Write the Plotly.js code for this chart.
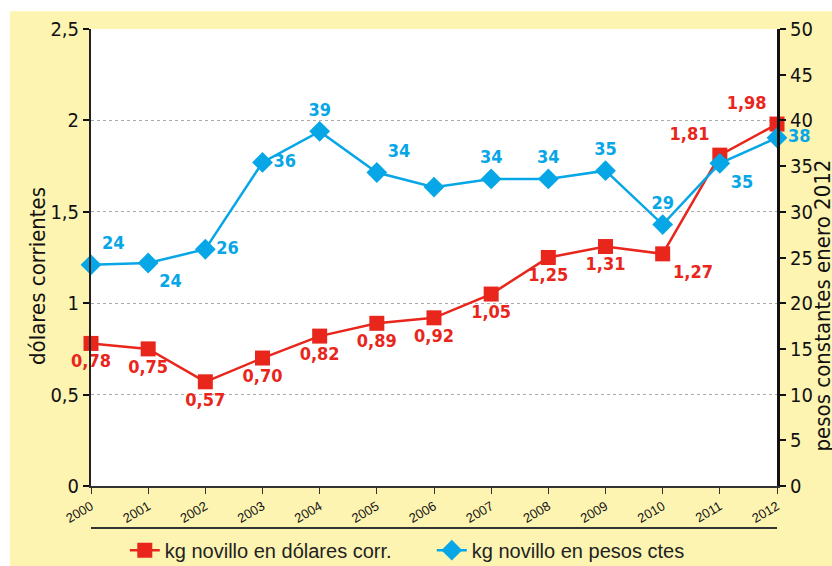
<!DOCTYPE html>
<html>
<head>
<meta charset="utf-8">
<script src="https://cdn.plot.ly/plotly-3.0.1.min.js"></script>
<style>
  html, body { margin: 0; padding: 0; background: #fff; }
  #chart { width: 832px; height: 566px; }
</style>
</head>
<body>
<div id="chart"></div>
<script>
// years on the x axis
var years = ["2000", "2001", "2002", "2003", "2004", "2005", "2006",
             "2007", "2008", "2009", "2010", "2011", "2012"];

// price per kg of steer, current dollars (left axis)
var dolares = [0.78, 0.75, 0.57, 0.70, 0.82, 0.89, 0.92, 1.05, 1.25, 1.31, 1.27, 1.81, 1.98];
var dolaresLabels = ["0,78", "0,75", "0,57", "0,70", "0,82", "0,89", "0,92",
                     "1,05", "1,25", "1,31", "1,27", "1,81", "1,98"];

// price per kg of steer, constant pesos Jan 2012 (right axis)
var pesos = [24.2, 24.4, 25.9, 35.4, 38.8, 34.3, 32.7, 33.6, 33.6, 34.5, 28.6, 35.3, 38.1];
var pesosLabels = ["24", "24", "26", "36", "39", "34", "", "34", "34", "35", "29", "35", "38"];

var rojo = "#e8261c";
var azul = "#07a6e6";
var narrow = "DejaVu Sans Condensed, Liberation Sans Narrow, sans-serif";

var traceDol = {
  x: years,
  y: dolares,
  name: "kg novillo en dólares corr.",
  type: "scatter",
  mode: "lines+markers+text",
  line: { color: rojo, width: 2.5 },
  marker: { symbol: "square", size: 15, color: rojo },
  text: dolaresLabels,
  textposition: ["bottom center", "bottom center", "bottom center", "bottom center",
                 "bottom center", "bottom center", "bottom center", "bottom center",
                 "bottom center", "bottom center", "bottom right", "top left", "top left"],
  textfont: { family: narrow, size: 18, color: rojo, weight: "bold" },
  cliponaxis: false
};

var tracePes = {
  x: years,
  y: pesos,
  yaxis: "y2",
  name: "kg novillo en pesos ctes",
  type: "scatter",
  mode: "lines+markers+text",
  line: { color: azul, width: 2.5 },
  marker: { symbol: "diamond", size: 16, color: azul },
  text: pesosLabels,
  textposition: ["top right", "bottom right", "middle right", "middle right",
                 "top center", "top right", "top center", "top center",
                 "top center", "top center", "top center", "bottom right", "middle right"],
  textfont: { family: narrow, size: 18, color: azul, weight: "bold" },
  cliponaxis: false
};

var layout = {
  width: 832,
  height: 566,
  margin: { l: 91, r: 55, t: 29, b: 80 },
  paper_bgcolor: "#fdf4b2",
  plot_bgcolor: "#ffffff",
  separators: ",.",
  showlegend: true,
  legend: {
    orientation: "h",
    xref: "container", yref: "container",
    x: 0.15, y: 0.028,
    xanchor: "left", yanchor: "middle",
    bgcolor: "rgba(0,0,0,0)",
    font: { family: "Liberation Sans, Arial, sans-serif", size: 20, color: "#222" },
    entrywidth: 262,
    entrywidthmode: "pixels",
    traceorder: "normal"
  },
  xaxis: {
    type: "category",
    range: [0, 12],
    automargin: false,
    showgrid: false,
    showline: true,
    linecolor: "#333",
    linewidth: 2,
    ticks: "outside",
    ticklen: 6,
    tickcolor: "#333",
    tickangle: -30,
    tickfont: { family: "Liberation Sans, Arial, sans-serif", size: 13, color: "#111" },
    zeroline: false
  },
  yaxis: {
    range: [0, 2.5],
    dtick: 0.5,
    automargin: false,
    showgrid: true,
    gridcolor: "#aaaaaa",
    griddash: "dot",
    gridwidth: 1,
    showline: true,
    linecolor: "#222",
    linewidth: 2,
    ticks: "outside",
    ticklen: 6,
    tickwidth: 2,
    tickcolor: "#111",
    tickfont: { family: narrow, size: 20, color: "#111" },
    zeroline: false
  },
  yaxis2: {
    overlaying: "y",
    side: "right",
    range: [0, 50],
    dtick: 5,
    automargin: false,
    showgrid: false,
    showline: true,
    linecolor: "#111",
    linewidth: 3,
    ticks: "outside",
    ticklen: 6,
    tickwidth: 2,
    tickcolor: "#111",
    tickfont: { family: narrow, size: 20, color: "#111" },
    zeroline: false
  },
  shapes: [
    // white strips outside the yellow panel
    { type: "rect", xref: "paper", yref: "paper", x0: -0.2, x1: -0.118, y0: -0.3, y1: 1.2,
      fillcolor: "#ffffff", line: { width: 0 }, layer: "above" },
    { type: "rect", xref: "paper", yref: "paper", x0: -0.2, x1: 1.2, y0: 1.039, y1: 1.2,
      fillcolor: "#ffffff", line: { width: 0 }, layer: "above" },
    // rule between the years and the legend
    { type: "line", xref: "paper", yref: "paper", x0: 0, x1: 1, y0: -0.092, y1: -0.092,
      line: { color: "#333", width: 2 } }
  ],
  annotations: [
    { text: "dólares corrientes", xref: "paper", yref: "paper",
      x: -0.077, y: 0.46, xanchor: "center", yanchor: "middle",
      textangle: -90, showarrow: false,
      font: { family: narrow, size: 22, color: "#111" } },
    { text: "pesos constantes enero 2012", xref: "paper", yref: "paper",
      x: 1.0656, y: 0.395, xanchor: "center", yanchor: "middle",
      textangle: -90, showarrow: false,
      font: { family: narrow, size: 22, color: "#111" } }
  ]
};

Plotly.newPlot("chart", [traceDol, tracePes], layout, { displayModeBar: false });
</script>
</body>
</html>
